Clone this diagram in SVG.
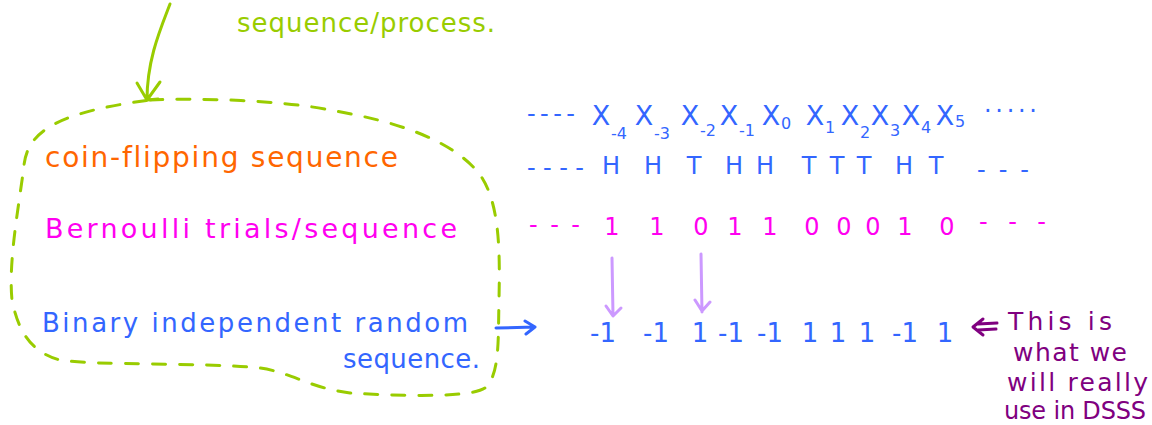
<svg xmlns="http://www.w3.org/2000/svg" width="1152" height="425" viewBox="0 0 1152 425">
<style>
text{font-family:"DejaVu Sans","Liberation Sans",sans-serif;font-variant-ligatures:none;}
.g{fill:#99cc00}.o{fill:#ff6600}.m{fill:#ff00f0}.b{fill:#3366ff}.p{fill:#800080}
.c{text-anchor:middle}
.ln{fill:none;stroke-width:3;stroke-linecap:round;stroke-linejoin:round}
</style>
<rect width="1152" height="425" fill="#ffffff"/>
<g id="note-top">
<text class="g" x="237" y="32" font-size="26" textLength="258" lengthAdjust="spacing">sequence/process.</text>
</g>
<g id="group-box">
<path class="ln" stroke="#99cc00" stroke-dasharray="13 14" d="M150,100 C200,98 280,100 330,110 C400,122 450,140 478,172 C500,200 500,250 499,300 C498,340 500,375 485,388 C470,398 400,396 350,393 C310,388 290,372 260,368 C200,362 100,366 60,360 C30,352 18,330 12,300 C8,260 20,200 24,165 C28,130 60,112 150,100 Z"/>
<text class="o" x="45" y="167" font-size="28" textLength="353" lengthAdjust="spacing">coin-flipping sequence</text>
<text class="m" x="45" y="238" font-size="27" textLength="412" lengthAdjust="spacing">Bernoulli trials/sequence</text>
<text class="b" x="42" y="332" font-size="26" textLength="426" lengthAdjust="spacing">Binary independent random</text>
<text class="b" x="343" y="368" font-size="26" textLength="137" lengthAdjust="spacing">sequence.</text>
</g>
<g id="row-x">
<text class="b" x="527" y="122" font-size="24" textLength="48" lengthAdjust="spacing">- - - -</text>
<text class="b c" font-size="27" y="125"><tspan x="601">X</tspan><tspan x="644">X</tspan><tspan x="690">X</tspan><tspan x="729">X</tspan><tspan x="771">X</tspan><tspan x="815">X</tspan><tspan x="850">X</tspan><tspan x="880">X</tspan><tspan x="911">X</tspan><tspan x="945">X</tspan></text>
<text class="b" font-size="16"><tspan x="611" y="139">-4</tspan><tspan x="654" y="139">-3</tspan><tspan x="700" y="136">-2</tspan><tspan x="739" y="136">-1</tspan><tspan x="781" y="129">0</tspan><tspan x="825" y="133">1</tspan><tspan x="860" y="138">2</tspan><tspan x="890" y="136">3</tspan><tspan x="921" y="133">4</tspan><tspan x="955" y="127">5</tspan></text>
<text class="b" x="984" y="112" font-size="24" textLength="53" lengthAdjust="spacing">.....</text>
</g>
<g id="row-coin">
<text class="b" x="527" y="176" font-size="24" textLength="57" lengthAdjust="spacing">- - - -</text>
<text class="b c" font-size="24" y="174"><tspan x="611">H</tspan><tspan x="653">H</tspan><tspan x="694">T</tspan><tspan x="734">H</tspan><tspan x="765">H</tspan><tspan x="809">T</tspan><tspan x="837">T</tspan><tspan x="864">T</tspan><tspan x="904">H</tspan><tspan x="936">T</tspan></text>
<text class="b" x="977" y="178" font-size="24" textLength="52" lengthAdjust="spacing">- - -</text>
</g>
<g id="row-bits">
<text class="m" x="529" y="233" font-size="24" textLength="51" lengthAdjust="spacing">- - -</text>
<text class="m c" font-size="24" y="235"><tspan x="612">1</tspan><tspan x="657">1</tspan><tspan x="701">0</tspan><tspan x="735">1</tspan><tspan x="770">1</tspan><tspan x="812">0</tspan><tspan x="844">0</tspan><tspan x="873">0</tspan><tspan x="905">1</tspan><tspan x="947">0</tspan></text>
<text class="m" x="979" y="230" font-size="24" textLength="67" lengthAdjust="spacing">- - -</text>
</g>
<g id="row-pm">
<text class="b c" font-size="26" y="342"><tspan x="603">-1</tspan><tspan x="656">-1</tspan><tspan x="700">1</tspan><tspan x="731">-1</tspan><tspan x="770">-1</tspan><tspan x="810">1</tspan><tspan x="838">1</tspan><tspan x="867">1</tspan><tspan x="905">-1</tspan><tspan x="945">1</tspan></text>
</g>
<g id="note-dsss">
<text class="p" x="1008" y="330" font-size="25" textLength="104" lengthAdjust="spacing">This is</text>
<text class="p" x="1013" y="361" font-size="25" textLength="114" lengthAdjust="spacing">what we</text>
<text class="p" x="1007" y="391" font-size="25" textLength="141" lengthAdjust="spacing">will really</text>
<text class="p" x="1004" y="419" font-size="24" textLength="142" lengthAdjust="spacing">use in DSSS</text>
</g>
<g id="connectors">
<path class="ln" stroke="#99cc00" d="M170,4 C160,30 147,60 147,100 M137,83 L147,100 L160,82 M147,100 L158,99"/>
<path class="ln" stroke="#cc99ff" d="M612,258 L613,315 M606,306 L613,316 L621,308"/>
<path class="ln" stroke="#cc99ff" d="M701,254 L702,312 M695,300 L702,311 L710,302"/>
<path class="ln" stroke="#3366ff" d="M496,328 L535,327 M525,321 L535,327 L526,334"/>
<path class="ln" stroke="#800080" d="M983,319 L973,327 L983,335 M978,324 L997,323 M978,330 L996,329"/>
</g>
</svg>
